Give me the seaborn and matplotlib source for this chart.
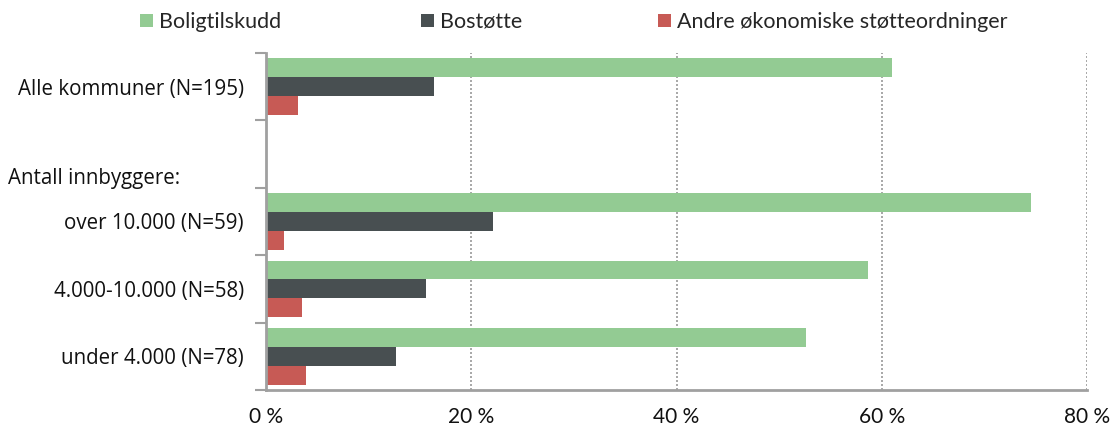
import numpy as np
import pandas as pd
import matplotlib
matplotlib.use("Agg")
import matplotlib.pyplot as plt
import seaborn as sns
from matplotlib.ticker import FixedLocator, FuncFormatter

sns.set_theme(style="white")
plt.rcParams["font.family"] = ["Open Sans", "DejaVu Sans"]

# Category rows (top to bottom); the blank row holds the "Antall innbyggere:" heading
categories = ["Alle kommuner (N=195)", " ", "over 10.000 (N=59)",
              "4.000-10.000 (N=58)", "under 4.000 (N=78)"]
bar_categories = ["Alle kommuner (N=195)", "over 10.000 (N=59)",
                  "4.000-10.000 (N=58)", "under 4.000 (N=78)"]
series = ["Boligtilskudd", "Bostøtte", "Andre økonomiske støtteordninger"]
boligtilskudd = [61.0, 74.5, 58.7, 52.6]
bostotte = [16.4, 22.1, 15.6, 12.7]
andre = [3.1, 1.8, 3.5, 3.9]
x_ticks = [0, 20, 40, 60, 80]
colors = ["#93CB93", "#484F51", "#C75A55"]

rows = []
for name, vals in zip(series, [boligtilskudd, bostotte, andre]):
    for cat, v in zip(bar_categories, vals):
        rows.append({"kategori": cat, "serie": name, "andel": v})
df = pd.DataFrame(rows)

fig = plt.figure(figsize=(11.1, 4.28), dpi=100)
ax = fig.add_axes([266 / 1110, 38 / 428, 821 / 1110, 337 / 428])

sns.barplot(data=df, y="kategori", x="andel", hue="serie", order=categories,
            hue_order=series, palette=colors, orient="h", width=0.84,
            saturation=1, linewidth=0, errorbar=None, ax=ax, legend=True)

ax.set_xlim(0, 80)
ax.set_ylim(4.5, -0.5)
ax.set_xlabel("")
ax.set_ylabel("")

# x axis: percent labels with dotted vertical gridlines
ax.xaxis.set_major_locator(FixedLocator(x_ticks))
ax.xaxis.set_major_formatter(FuncFormatter(lambda v, p: f"{int(v)} %"))
ax.tick_params(axis="x", which="major", direction="out", length=6, width=1.2,
               color="#A0A0A0", pad=6, labelsize=15, labelcolor="#111111")
for lbl in ax.get_xticklabels():
    lbl.set_family(["Lato", "DejaVu Sans"])
for xv in x_ticks[1:]:
    ax.axvline(xv, color="#9A9A9A", linestyle=(0, (1.2, 1.2)), linewidth=1.2, zorder=0)

# y axis: labels at row centres, tick marks at row boundaries
ax.yaxis.set_major_locator(FixedLocator(range(len(categories))))
ax.set_yticklabels(categories)
ax.yaxis.set_minor_locator(FixedLocator(np.arange(-0.5, len(categories), 1.0)))
ax.tick_params(axis="y", which="major", length=0, pad=16, labelsize=14.8,
               labelcolor="#111111")
ax.tick_params(axis="y", which="minor", direction="out", left=True, length=8,
               width=1.5, color="#A0A0A0")

ax.text(8 / 1110, 1.36, "Antall innbyggere:",
        transform=matplotlib.transforms.blended_transform_factory(fig.transFigure, ax.transData),
        ha="left", va="center", fontsize=14.8, color="#111111")

for side in ["top", "right"]:
    ax.spines[side].set_visible(False)
ax.spines["left"].set_color("#A0A0A0")
ax.spines["left"].set_linewidth(2)
ax.spines["bottom"].set_color("#A0A0A0")
ax.spines["bottom"].set_linewidth(2)

# legend entries laid out along the top edge
handles, labels = ax.get_legend_handles_labels()
ax.get_legend().remove()
for h, lab, x0 in zip(handles, labels, [140, 421, 658]):
    fig.legend([h], [lab], loc="center left", bbox_to_anchor=(x0 / 1110, 1 - 22 / 428),
               frameon=False, handlelength=0.6, handleheight=0.6,
               handletextpad=0.3, borderaxespad=0, borderpad=0,
               prop={"family": ["Lato", "DejaVu Sans"], "size": 15.5})

fig.savefig("out.png", dpi=100, facecolor="white")
